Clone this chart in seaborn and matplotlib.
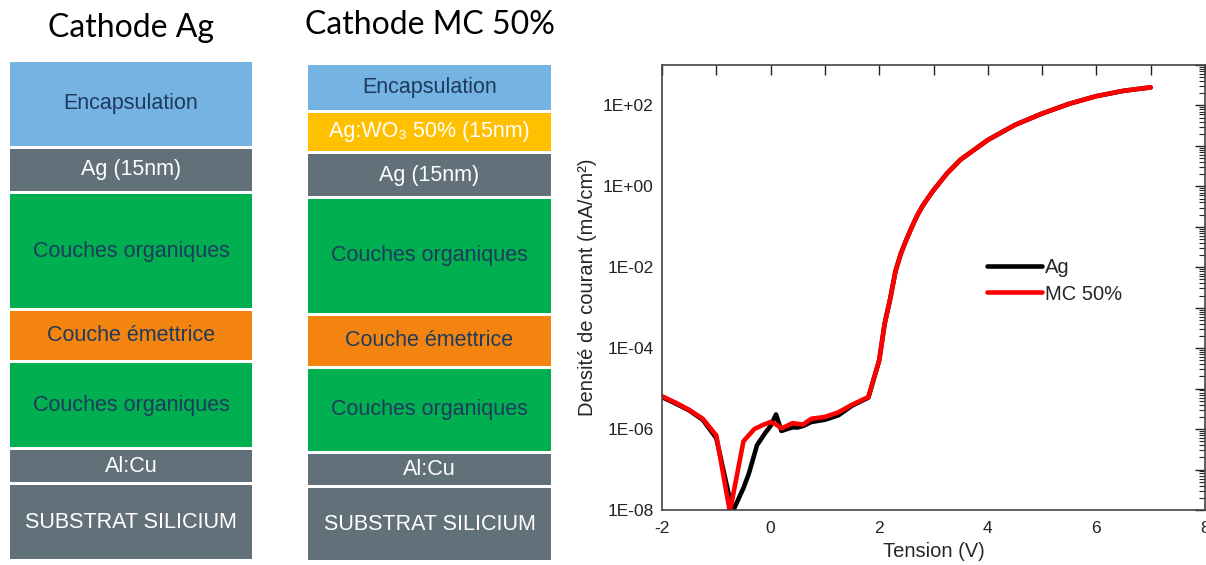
import numpy as np
import pandas as pd
import matplotlib
matplotlib.use("Agg")
import matplotlib.pyplot as plt
import matplotlib.ticker as mticker
import seaborn as sns

# ---------------- data ----------------
# Layer stacks (top to bottom)
stack_ag_labels = ["Encapsulation", "Ag (15nm)", "Couches organiques", "Couche émettrice",
                   "Couches organiques", "Al:Cu", "SUBSTRAT SILICIUM"]
stack_ag_kind = ["encap", "metal", "org", "emit", "org", "metal", "metal"]
stack_ag_thick = [84, 42, 114, 49, 84, 32, 74]

stack_mc_labels = ["Encapsulation", "Ag:WO₃ 50% (15nm)", "Ag (15nm)", "Couches organiques",
                   "Couche émettrice", "Couches organiques", "Al:Cu", "SUBSTRAT SILICIUM"]
stack_mc_kind = ["encap", "wo3", "metal", "org", "emit", "org", "metal", "metal"]
stack_mc_thick = [45, 38, 42, 114, 50, 82, 31, 72]

titles = ["Cathode Ag", "Cathode MC 50%"]

# J-V curves
v_ag = [-2.0, -1.75, -1.5, -1.25, -1.0, -0.7, -0.5, -0.4, -0.25, -0.1, 0.0, 0.1, 0.2,
        0.3, 0.4, 0.5, 0.6, 0.75, 1.0, 1.25, 1.5, 1.8, 2.0, 2.1, 2.2, 2.3, 2.4, 2.5,
        2.6, 2.7, 2.8, 2.9, 3.0, 3.25, 3.5, 4.0, 4.5, 5.0, 5.5, 6.0, 6.5, 7.0]
j_ag = [6.2e-6, 4.3e-6, 2.9e-6, 1.7e-6, 6e-7, 9e-9, 3.5e-8, 8e-8, 4e-7, 8e-7, 1.2e-6,
        2.3e-6, 9e-7, 1.0e-6, 1.1e-6, 1.1e-6, 1.2e-6, 1.5e-6, 1.7e-6, 2.2e-6, 3.8e-6,
        6e-6, 5e-5, 4e-4, 1.6e-3, 8e-3, 2.2e-2, 4.8e-2, 0.098, 0.19, 0.33, 0.52, 0.8,
        2.1, 4.6, 14, 33, 63, 110, 170, 230, 280]

v_mc = [-2.0, -1.75, -1.5, -1.25, -1.0, -0.75, -0.5, -0.3, -0.15, 0.0, 0.1, 0.2, 0.3,
        0.4, 0.5, 0.6, 0.75, 1.0, 1.25, 1.5, 1.8, 2.0, 2.1, 2.2, 2.3, 2.4, 2.5, 2.6,
        2.7, 2.8, 2.9, 3.0, 3.25, 3.5, 4.0, 4.5, 5.0, 5.5, 6.0, 6.5, 7.0]
j_mc = [6.5e-6, 4.5e-6, 3.0e-6, 1.8e-6, 7e-7, 9e-9, 5e-7, 1.0e-6, 1.25e-6, 1.5e-6,
        1.3e-6, 1.05e-6, 1.2e-6, 1.4e-6, 1.35e-6, 1.3e-6, 1.8e-6, 2.0e-6, 2.6e-6,
        4.0e-6, 6.2e-6, 5e-5, 4e-4, 1.6e-3, 8e-3, 2.2e-2, 4.8e-2, 0.098, 0.19, 0.33,
        0.52, 0.8, 2.1, 4.6, 14, 33, 63, 110, 170, 230, 280]

series_names = ["Ag", "MC 50%"]
series_colors = ["black", "red"]

# ---------------- style ----------------
sns.set_theme(style="white")
plt.rcParams["font.family"] = ["Liberation Sans", "DejaVu Sans"]

layer_colors = {"encap": "#75B3E2", "metal": "#627179", "org": "#00B050",
                "emit": "#F2840F", "wo3": "#FFC000"}
text_colors = {"encap": "#1F3A5C", "metal": "white", "org": "#1F3A5C",
               "emit": "#1F3A5C", "wo3": "white"}

W, H = 1206, 565
fig = plt.figure(figsize=(W / 100, H / 100), dpi=100)

# ---------- schematic stacks ----------
axs = fig.add_axes([0, 0, 1, 1])
axs.set_xlim(0, W)
axs.set_ylim(H, 0)
axs.axis("off")

def draw_stack(x0, x1, top, labels, kinds, thick, title, title_y):
    gap = 3
    y = top
    for lab, kind, t in zip(labels, kinds, thick):
        axs.bar((x0 + x1) / 2, t, bottom=y, width=x1 - x0, color=layer_colors[kind],
                edgecolor="none")
        axs.text((x0 + x1) / 2, y + t / 2, lab, ha="center", va="center",
                 color=text_colors[kind], fontsize=15.5,
                 family=["Liberation Sans", "DejaVu Sans"])
        y += t + gap
    axs.text((x0 + x1) / 2, title_y, title, ha="center", va="center",
             fontsize=23, family=["Lato", "DejaVu Sans"], color="black")

draw_stack(10, 252, 62, stack_ag_labels, stack_ag_kind, stack_ag_thick, titles[0], 28)
draw_stack(308, 551, 65, stack_mc_labels, stack_mc_kind, stack_mc_thick, titles[1], 25)

# ---------- J-V plot ----------
ax = fig.add_axes([662 / W, 1 - 510 / H, (1205 - 662) / W, (510 - 65) / H])
df = pd.concat([
    pd.DataFrame({"V": v_ag, "J": j_ag, "Cathode": series_names[0]}),
    pd.DataFrame({"V": v_mc, "J": j_mc, "Cathode": series_names[1]}),
], ignore_index=True)

sns.lineplot(data=df, x="V", y="J", hue="Cathode", hue_order=series_names,
             palette=dict(zip(series_names, series_colors)), linewidth=3.3,
             estimator=None, sort=False, ax=ax)

ax.set_yscale("log")
ax.set_xlim(-2, 8)
ax.set_ylim(1e-8, 1e3)

ax.xaxis.set_major_locator(mticker.MultipleLocator(1))
ax.xaxis.set_major_formatter(mticker.FuncFormatter(
    lambda v, p: f"{int(round(v))}" if abs(v - round(v)) < 1e-6 and int(round(v)) % 2 == 0 else ""))

ax.yaxis.set_major_locator(mticker.LogLocator(base=10, numticks=30))
ax.yaxis.set_minor_locator(mticker.LogLocator(base=10, subs=np.arange(2, 10), numticks=30))

def yfmt(v, p):
    e = int(round(np.log10(v)))
    if e % 2 != 0:
        return ""
    return f"1E{'+' if e >= 0 else '-'}{abs(e):02d}"

ax.yaxis.set_major_formatter(mticker.FuncFormatter(yfmt))
ax.yaxis.set_minor_formatter(mticker.NullFormatter())

ax.tick_params(axis="both", which="major", direction="in", length=7, width=1,
               top=True, right=True, labelsize=12.5, colors="#222222", pad=6)
ax.tick_params(axis="both", which="minor", direction="in", length=4, width=0.8,
               top=True, right=True)
ax.tick_params(axis="x", which="major", pad=8)
for sp in ax.spines.values():
    sp.set_color("#444444")
    sp.set_linewidth(1.2)

ax.set_xlabel("Tension (V)", fontsize=14.5, labelpad=4)
ax.set_ylabel("Densité de courant (mA/cm²)", fontsize=14.5, labelpad=4)

ax.legend(frameon=False, fontsize=14.5, loc="center left",
          bbox_to_anchor=(969 / W, 1 - 281 / H), bbox_transform=fig.transFigure,
          handlelength=2.7, handletextpad=0.15, labelspacing=0.35, title=None)
for line in ax.get_legend().get_lines():
    line.set_linewidth(3.3)

fig.savefig("out.png", dpi=100)
